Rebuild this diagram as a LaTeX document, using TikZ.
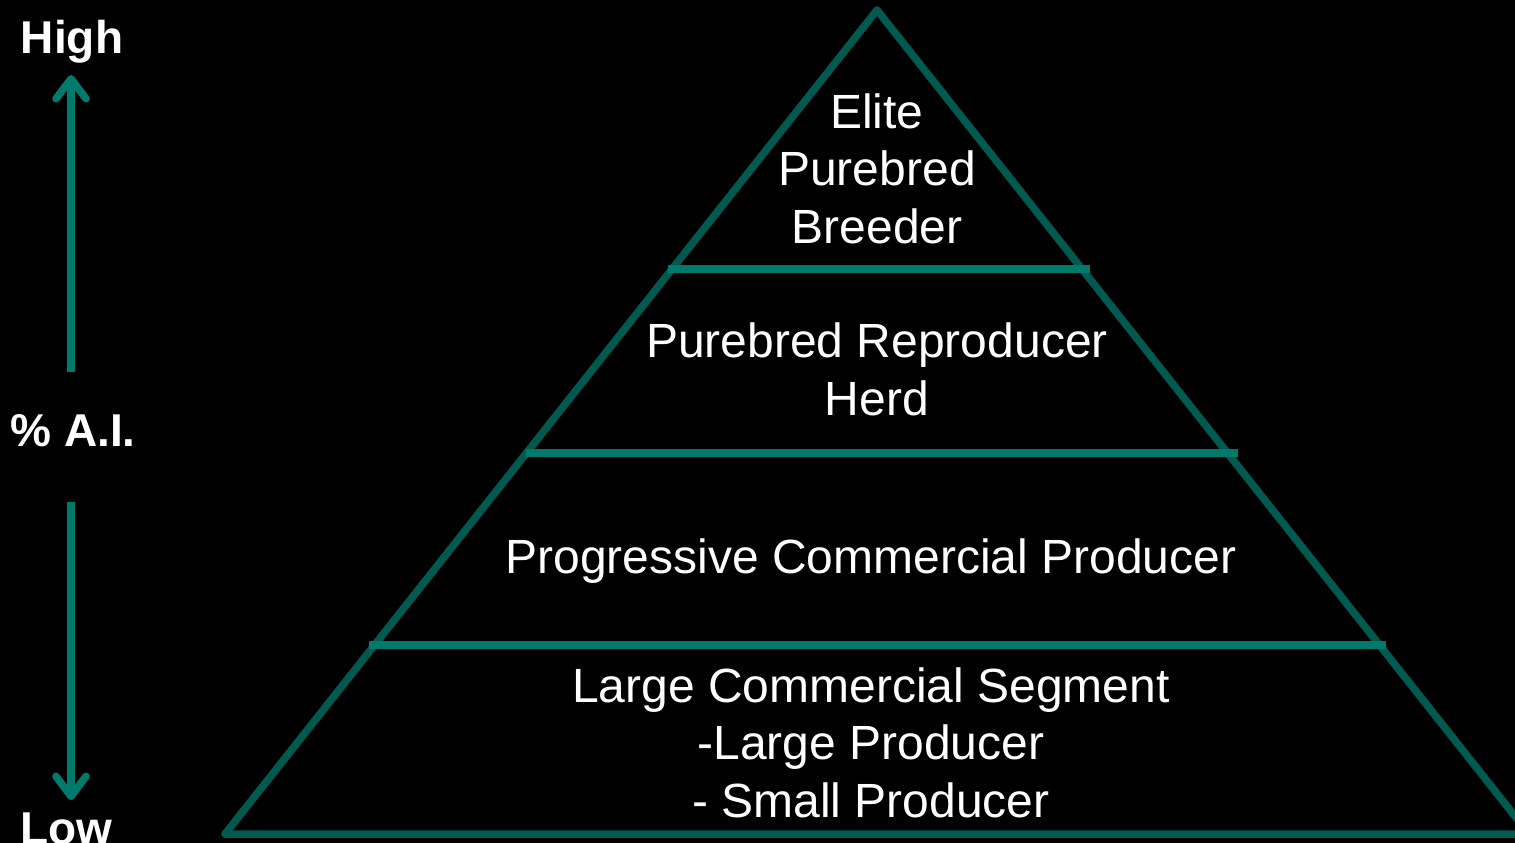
\documentclass[tikz,border=0pt]{standalone}
\usepackage{fontspec}
\setmainfont{Liberation Sans}
\usetikzlibrary{arrows.meta}
\definecolor{tri}{RGB}{0,90,80}
\definecolor{bar}{RGB}{0,122,106}
\begin{document}
\begin{tikzpicture}[x=1pt,y=-1pt,
  tier/.style={text=white,font=\fontsize{48}{57.5}\selectfont,align=center,inner sep=0pt},
  axis/.style={text=white,font=\fontsize{46}{56}\selectfont\bfseries,inner sep=0pt},
  edge/.style={draw=tri,line width=7.5pt,line join=round,line cap=round},
  band/.style={draw=bar,line width=7.5pt},
  arr/.style={draw=bar,line width=7.5pt,-{Straight Barb[length=20pt,width=30pt,line cap=round,line join=round]}}]
\fill[black] (0,0) rectangle (1515,843);
\useasboundingbox (0,0) rectangle (1515,843);
\begin{scope}
\clip (0,0) rectangle (1515,843);
\coordinate (apex) at (877,10);
\coordinate (bl) at (225,834);
\coordinate (br) at (1529,834);
\draw[edge] (apex) -- (bl) -- (br) -- cycle;
\end{scope}
\coordinate (l1a) at (668,269); \coordinate (l1b) at (1090,269);
\coordinate (l2a) at (526,453); \coordinate (l2b) at (1238,453);
\coordinate (l3a) at (369,645); \coordinate (l3b) at (1386,645);
\draw[band] (l1a) -- (l1b);
\draw[band] (l2a) -- (l2b);
\draw[band] (l3a) -- (l3b);
\node[tier,anchor=base] (t1) at (877,243) {Elite\\Purebred\\Breeder};
\node[tier,anchor=base] (t2) at (877,415) {Purebred Reproducer\\Herd};
\node[tier,anchor=base] (t3) at (871,573) {Progressive Commercial Producer};
\node[tier,anchor=base] (t4) at (871,817) {Large Commercial Segment\\-Large Producer\\- Small Producer};
\node[axis,anchor=base] (high) at (72,53) {High};
\node[axis,anchor=base] (ai) at (73,446) {\% A.I.};
\node[axis,anchor=base] (low) at (66,844) {Low};
\coordinate (upS) at (71,372); \coordinate (upE) at (71,75);
\coordinate (dnS) at (71,502); \coordinate (dnE) at (71,800);
\draw[arr] (upS) -- (upE);
\draw[arr] (dnS) -- (dnE);
\end{tikzpicture}
\end{document}
